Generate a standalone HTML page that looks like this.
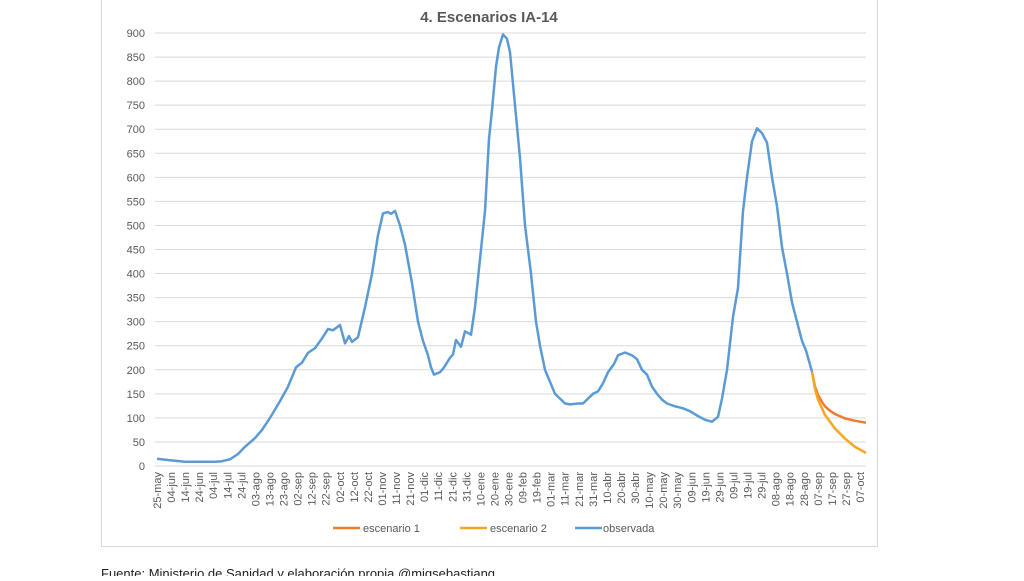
<!DOCTYPE html>
<html><head><meta charset="utf-8"><style>
body{margin:0;width:1024px;height:576px;background:#fff;overflow:hidden;font-family:"Liberation Sans",sans-serif}
</style></head><body>
<svg id="s" width="1024" height="576" xmlns="http://www.w3.org/2000/svg" font-family="Liberation Sans, sans-serif">
<rect x="101.5" y="-2" width="776" height="548.5" fill="#fff" stroke="#d9d9d9"/>
<text x="489" y="22" text-anchor="middle" font-size="15" font-weight="bold" fill="#595959">4. Escenarios IA-14</text>
<g id="grid"></g>
<g id="xl"></g>
<polyline id="obs" fill="none" stroke="#5B9BD5" stroke-width="2.5" stroke-linejoin="round"/>
<polyline id="s1" fill="none" stroke="#ED7D31" stroke-width="2.5"/>
<polyline id="s2" fill="none" stroke="#F5A623" stroke-width="2.5"/>
<line x1="333" y1="528" x2="360" y2="528" stroke="#ED7D31" stroke-width="2.5"/>
<text x="363" y="532" font-size="11" fill="#595959">escenario 1</text>
<line x1="460" y1="528" x2="487" y2="528" stroke="#F5A623" stroke-width="2.5"/>
<text x="490" y="532" font-size="11" fill="#595959">escenario 2</text>
<line x1="575" y1="528" x2="602" y2="528" stroke="#5B9BD5" stroke-width="2.5"/>
<text x="603" y="532" font-size="11" fill="#595959">observada</text>
<text x="101" y="578" font-size="13" fill="#222">Fuente: Ministerio de Sanidad y elaboración propia @migsebastiang</text>
</svg>
<script>
var NS="http://www.w3.org/2000/svg";
function Y(v){return 466-v*0.4811;}
var g=document.getElementById("grid");
for(var v=0;v<=900;v+=50){var y=Y(v);
var l=document.createElementNS(NS,"line");l.setAttribute("x1",155);l.setAttribute("x2",866);l.setAttribute("y1",y);l.setAttribute("y2",y);l.setAttribute("stroke","#d9d9d9");l.setAttribute("stroke-width","1");g.appendChild(l);
var t=document.createElementNS(NS,"text");t.setAttribute("x",145);t.setAttribute("y",y+4);t.setAttribute("text-anchor","end");t.setAttribute("font-size","11");t.setAttribute("fill","#595959");t.textContent=v;g.appendChild(t);}
var labs="25-may 04-jun 14-jun 24-jun 04-jul 14-jul 24-jul 03-ago 13-ago 23-ago 02-sep 12-sep 22-sep 02-oct 12-oct 22-oct 01-nov 11-nov 21-nov 01-dic 11-dic 21-dic 31-dic 10-ene 20-ene 30-ene 09-feb 19-feb 01-mar 11-mar 21-mar 31-mar 10-abr 20-abr 30-abr 10-may 20-may 30-may 09-jun 19-jun 29-jun 09-jul 19-jul 29-jul 08-ago 18-ago 28-ago 07-sep 17-sep 27-sep 07-oct".split(" ");
var xl=document.getElementById("xl");
labs.forEach(function(s,i){var x=157+i*14.06;var t=document.createElementNS(NS,"text");t.setAttribute("transform","translate("+(x+4)+",472) rotate(-90)");t.setAttribute("text-anchor","end");t.setAttribute("font-size","11");t.setAttribute("fill","#595959");t.textContent=s;xl.appendChild(t);});
var o=[157,15,170,12,185,9,200,9,215,9,222,10,230,14,238,25,245,40,255,58,262,75,270,100,280,135,288,165,296,205,302,215,308,235,315,245,322,265,328,285,333,282,340,293,345,255,349,270,352,258,358,268,365,330,372,400,378,480,383,525,388,528,391,524,395,530,400,500,405,460,412,380,418,300,423,260,428,230,431,205,434,190,440,195,444,205,450,225,453,232,456,262,461,248,465,280,471,273,475,330,481,450,485,530,489,680,492,740,496,830,499,870,503,897,507,888,510,860,515,750,520,640,525,500,531,400,536,300,540,250,545,200,550,175,555,150,560,140,565,130,570,128,578,130,583,130,588,140,593,150,598,155,603,172,608,195,614,212,618,230,625,236,632,230,637,222,642,200,647,190,652,165,657,150,662,138,667,130,675,124,683,120,690,114,697,105,705,96,712,92,718,102,722,140,727,200,733,310,738,370,743,530,747,600,752,675,757,702,762,692,767,672,772,600,777,540,782,455,787,400,792,340,797,300,802,260,806,240,812,196];
var s1=[812,196,815,165,818,148,822,133,825,124,830,115,835,108,845,99,855,94,866,90];
var s2=[812,196,815,160,818,138,822,120,825,106,830,92,835,78,845,57,855,40,866,27];
function pts(a){var r=[];for(var i=0;i<a.length;i+=2)r.push(a[i]+","+Y(a[i+1]).toFixed(1));return r.join(" ");}
document.getElementById("obs").setAttribute("points",pts(o));
document.getElementById("s1").setAttribute("points",pts(s1));
document.getElementById("s2").setAttribute("points",pts(s2));
</script>
</body></html>
